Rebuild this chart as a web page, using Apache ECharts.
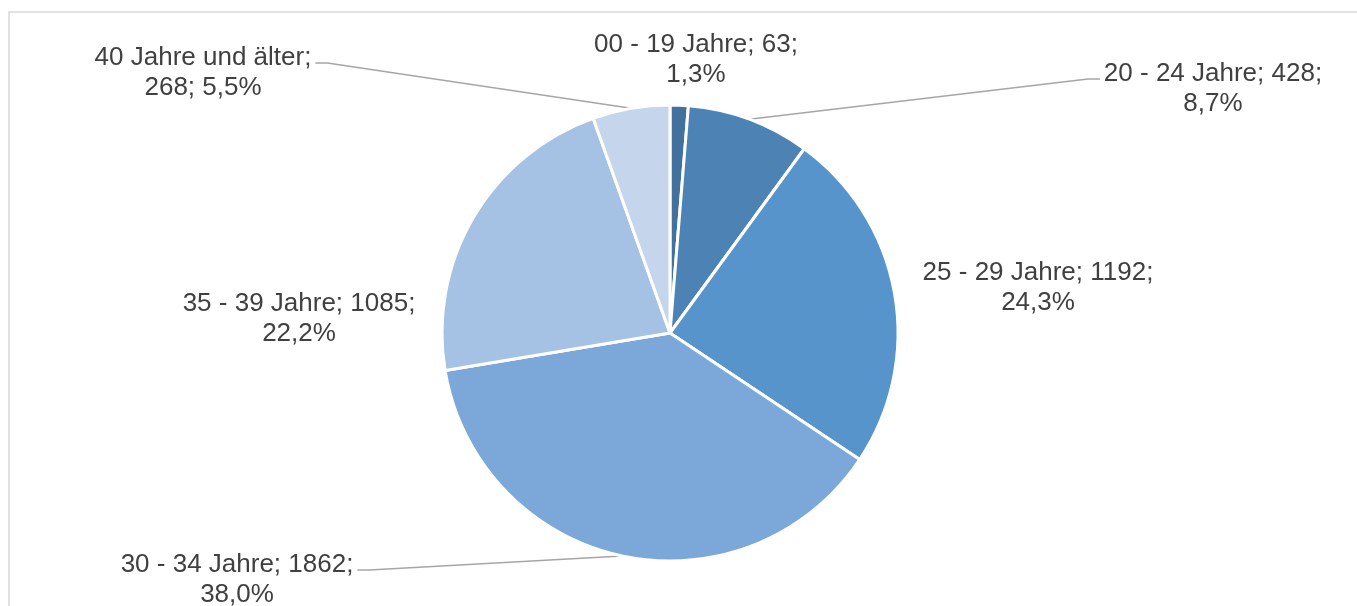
<!DOCTYPE html>
<html>
<head>
<meta charset="utf-8">
<script src="https://cdn.jsdelivr.net/npm/echarts@6/dist/echarts.min.js"></script>
<style>
html,body{margin:0;padding:0;background:#fff;}
#chart{width:1357px;height:606px;}
</style>
</head>
<body>
<div id="chart"></div>
<script>
const categories = ['00 - 19 Jahre', '20 - 24 Jahre', '25 - 29 Jahre', '30 - 34 Jahre', '35 - 39 Jahre', '40 Jahre und älter'];
const values = [63, 428, 1192, 1862, 1085, 268];
const colors = ['#41719c', '#4c83b4', '#5694cb', '#7ba8d8', '#a5c1e4', '#c4d5ec'];
// label layout (pixel positions of label block centres)
const labelCenters = [[696, 60], [1213, 89], [1038, 288], [237, 580], [299, 319], [203, 73]];
const lineSide = [0, -1, 0, 1, 0, 1];           // -1 line enters label from left, 1 from right, 0 none
const breakAfterName = [false, false, false, false, false, true];

const total = values.reduce((a, b) => a + b, 0);

const chart = echarts.init(document.getElementById('chart'), null, { renderer: 'canvas' });

const option = {
  animation: false,
  backgroundColor: '#ffffff',
  graphic: [{
    type: 'rect',
    silent: true,
    shape: { x: 9, y: 12, width: 1600, height: 900 },
    style: { fill: 'none', stroke: '#d9d9d9', lineWidth: 1.5 }
  }],
  series: [{
    type: 'pie',
    center: [670, 333],
    radius: 228,
    startAngle: 90,
    clockwise: true,
    avoidLabelOverlap: false,
    emphasis: { disabled: true },
    itemStyle: { borderColor: '#ffffff', borderWidth: 3 },
    label: {
      show: true,
      position: 'outside',
      color: '#404040',
      fontFamily: 'Liberation Sans, Arial, sans-serif',
      fontSize: 26,
      lineHeight: 30,
      align: 'center',
      formatter: function (p) {
        const pct = (p.value / total * 100).toFixed(1).replace('.', ',') + '%';
        const i = p.dataIndex;
        if (breakAfterName[i]) return p.name + ';\n' + p.value + '; ' + pct;
        return p.name + '; ' + p.value + ';\n' + pct;
      }
    },
    labelLine: {
      show: true,
      smooth: false,
      length: 10,
      length2: 10,
      lineStyle: { color: '#a6a6a6', width: 1.5 }
    },
    labelLayout: function (params) {
      const i = params.dataIndex;
      const cx = labelCenters[i][0], cy = labelCenters[i][1];
      const w = params.labelRect.width, h = params.labelRect.height;
      const res = { x: cx, y: cy, align: 'center', verticalAlign: 'middle' };
      if (lineSide[i] !== 0 && params.labelLinePoints && params.labelLinePoints.length) {
        const s = params.labelLinePoints[0];
        const ax = cx + lineSide[i] * (w / 2 + 4);
        const ay = cy - h / 2 + 20;
        res.labelLinePoints = [[s[0], s[1]], [ax + lineSide[i] * 12, ay], [ax, ay]];
      }
      return res;
    },
    data: categories.map(function (name, i) {
      return {
        name: name,
        value: values[i],
        itemStyle: { color: colors[i] },
        labelLine: { show: lineSide[i] !== 0 }
      };
    })
  }]
};

chart.setOption(option);
</script>
</body>
</html>
